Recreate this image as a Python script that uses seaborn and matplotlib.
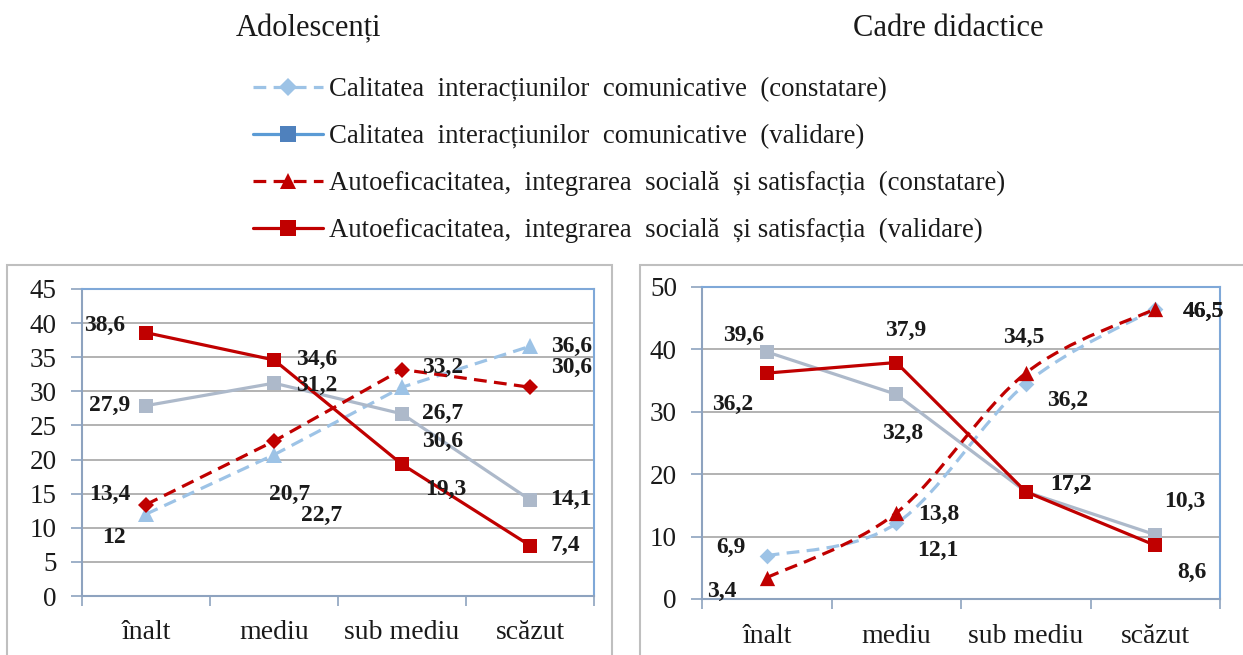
import numpy as np
import pandas as pd
import matplotlib
matplotlib.use("Agg")
import matplotlib.pyplot as plt
from matplotlib.lines import Line2D
from matplotlib.patches import Rectangle, PathPatch
from matplotlib.path import Path
import seaborn as sns

# ---- data -------------------------------------------------------------
categories = ["înalt", "mediu", "sub mediu", "scăzut"]
series_names = [
    "Calitatea  interacțiunilor  comunicative  (constatare)",
    "Calitatea  interacțiunilor  comunicative  (validare)",
    "Autoeficacitatea,  integrarea  socială  și satisfacția  (constatare)",
    "Autoeficacitatea,  integrarea  socială  și satisfacția  (validare)",
]
panel_titles = ["Adolescenți", "Cadre didactice"]

adol_calit_constatare = [12, 20.7, 30.6, 36.6]
adol_calit_validare = [27.9, 31.2, 26.7, 14.1]
adol_auto_constatare = [13.4, 22.7, 33.2, 30.6]
adol_auto_validare = [38.6, 34.6, 19.3, 7.4]

cadre_calit_constatare = [6.9, 12.1, 34.5, 46.5]
cadre_calit_validare = [39.6, 32.8, 17.2, 10.3]
cadre_auto_constatare = [3.4, 13.8, 36.2, 46.5]
cadre_auto_validare = [36.2, 37.9, 17.2, 8.6]

adol_yticks = list(range(0, 46, 5))
cadre_yticks = list(range(0, 51, 10))

# ---- style ------------------------------------------------------------
sns.set_style("white")
plt.rcParams["font.family"] = ["Liberation Serif", "DejaVu Serif"]

LIGHT_BLUE = "#9DC3E6"
GREY_BLUE = "#ADB9CA"
RED = "#C00000"
SPINE = "#7FA8D8"
GRID = "#A6A6A6"
DASH = (0, (4, 2.3))
LW = 2.3

W, H = 1243, 655
fig = plt.figure(figsize=(W / 100, H / 100), dpi=100, facecolor="white")


def fx(px):
    return px / W


def fy(py):
    return 1 - py / H


def smooth_path(xs, ys):
    pts = np.column_stack([xs, ys]).astype(float)
    n = len(pts)
    verts, codes = [pts[0]], [Path.MOVETO]
    for i in range(n - 1):
        p0 = pts[max(i - 1, 0)]
        p1, p2 = pts[i], pts[i + 1]
        p3 = pts[min(i + 2, n - 1)]
        verts += [p1 + (p2 - p0) / 6, p2 - (p3 - p1) / 6, p2]
        codes += [Path.CURVE4] * 3
    return Path(verts, codes)


def fmt(v):
    return f"{v:g}".replace(".", ",")


# panel definitions: series list of (values, colour, dashed, marker, marker size, label offsets px)
panels = [
    dict(
        rect=(fx(82), fy(596), fx(594) - fx(82), fy(289) - fy(596)),
        ylim=45, yticks=adol_yticks, smooth=False, xpad=17,
        series=[
            (adol_calit_constatare, LIGHT_BLUE, True, "^", 11,
             [(-32, 23), (16, 40), (41, 54), (42, 0)]),
            (adol_calit_validare, GREY_BLUE, False, "s", 10,
             [(-36, 0), (43, 2), (41, 0), (41, 0)]),
            (adol_auto_constatare, RED, True, "D", 8,
             [(-36, -10), (48, 74), (41, -2), (42, -20)]),
            (adol_auto_validare, RED, False, "s", 10,
             [(-41, -7), (43, 0), (44, 25), (35, 0)]),
        ],
    ),
    dict(
        rect=(fx(702), fy(599), fx(1220) - fx(702), fy(287) - fy(599)),
        ylim=50, yticks=cadre_yticks, smooth=True, xpad=18,
        series=[
            (cadre_calit_constatare, LIGHT_BLUE, True, "D", 8,
             [(-36, -8), (42, 27), (-2, -46), (48, 3)]),
            (cadre_calit_validare, GREY_BLUE, False, "s", 10,
             [(-23, -16), (6, 39), (45, -7), (30, -33)]),
            (cadre_auto_constatare, RED, True, "^", 11,
             [(-45, 14), (42, 2), (42, 27), (48, 3)]),
            (cadre_auto_validare, RED, False, "s", 10,
             [(-34, 31), (9, -32), (45, -7), (37, 27)]),
        ],
    ),
]

# outer frames around each chart
for x0, x1 in [(7, 612), (640, 1252)]:
    fig.patches.append(Rectangle((fx(x0), -0.05), fx(x1) - fx(x0), fy(265) + 0.05,
                                 transform=fig.transFigure, fill=False,
                                 ec="#BFBFBF", lw=1.5, zorder=0))

xpos = np.arange(len(categories))
for p in panels:
    ax = fig.add_axes(p["rect"])
    for z, (vals, col, dashed, mk, ms, offs) in enumerate(p["series"]):
        df = pd.DataFrame({"x": xpos, "y": vals})
        if dashed and p["smooth"]:
            ax.add_patch(PathPatch(smooth_path(df["x"], df["y"]), fill=False,
                                   ec=col, lw=LW, ls=DASH, zorder=2 + z))
            sns.scatterplot(data=df, x="x", y="y", ax=ax, color=col, marker=mk,
                            s=ms ** 2, linewidth=0, zorder=2 + z, legend=False)
        else:
            sns.lineplot(data=df, x="x", y="y", ax=ax, color=col, lw=LW,
                         linestyle=DASH if dashed else "-", marker=mk,
                         markersize=ms, markeredgewidth=0, estimator=None,
                         sort=False, legend=False, zorder=2 + z)
        for xi, v, (dx, dy) in zip(xpos, vals, offs):
            ax.annotate(fmt(v), (xi, v), xytext=(dx, -dy), textcoords="offset pixels",
                        ha="center", va="center", fontsize=17, fontweight="bold",
                        color="#1a1a1a", zorder=10, annotation_clip=False)

    ax.set_xlim(-0.5, 3.5)
    ax.set_ylim(0, p["ylim"])
    ax.set_xticks(np.arange(-0.5, 4, 1))
    ax.set_xticklabels([])
    ax.set_xticks(xpos, minor=True)
    ax.set_xticklabels(categories, minor=True)
    ax.set_yticks(p["yticks"])
    ax.set_yticklabels([str(t) for t in p["yticks"]])
    ax.tick_params(axis="x", which="major", bottom=True, length=7, width=1.2,
                   color="#8EA3BF", direction="out")
    ax.tick_params(axis="x", which="minor", bottom=True, length=0, pad=p["xpad"],
                   labelsize=20, labelcolor="#1a1a1a")
    ax.tick_params(axis="y", left=True, length=8, width=1.2, color="#8EA3BF",
                   direction="out", pad=10, labelsize=19.5, labelcolor="#1a1a1a")
    ax.yaxis.grid(True, color=GRID, lw=1.2)
    ax.set_axisbelow(True)
    ax.set_xlabel("")
    ax.set_ylabel("")
    for s in ax.spines.values():
        s.set_visible(True)
        s.set_color(SPINE)
        s.set_linewidth(1.5)
    ax.spines["bottom"].set_color("#8EA3BF")
    ax.spines["left"].set_color("#8EA3BF")

# panel titles
fig.text(fx(308), fy(29), panel_titles[0], ha="center", va="center",
         fontsize=22, color="#1a1a1a")
fig.text(fx(948), fy(29), panel_titles[1], ha="center", va="center",
         fontsize=22, color="#1a1a1a")

# shared legend
handles = [
    Line2D([], [], color=LIGHT_BLUE, lw=LW, ls=DASH, marker="D", ms=9, mew=0),
    Line2D([], [], color="#5B9BD5", lw=LW, marker="s", ms=11, mfc="#4F81BD", mew=0),
    Line2D([], [], color=RED, lw=LW, ls=DASH, marker="^", ms=11, mew=0),
    Line2D([], [], color=RED, lw=LW, marker="s", ms=11, mew=0),
]
fig.legend(handles, series_names, loc="upper left",
           bbox_to_anchor=(fx(253), fy(77)), frameon=False, fontsize=19.3,
           handlelength=2.6, handletextpad=0.25, labelspacing=0.82,
           borderpad=0, borderaxespad=0, labelcolor="#1a1a1a")

fig.savefig("out.png", dpi=100, facecolor="white")
